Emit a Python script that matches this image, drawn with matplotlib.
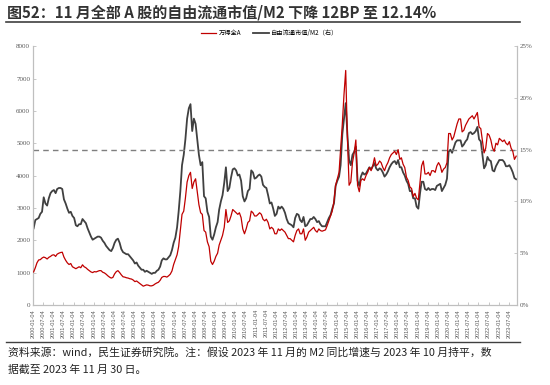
import numpy as np
import pandas as pd
import matplotlib
matplotlib.use("Agg")
from matplotlib import pyplot as plt
import matplotlib.dates as mdates
from matplotlib.ticker import FuncFormatter, MultipleLocator

plt.rcParams['font.family'] = ['Noto Sans CJK SC', 'DejaVu Sans']

# monthly values, 2000-01 .. 2023-11
wind_a = [
    1020, 1150, 1300, 1390, 1400, 1450, 1480, 1460, 1420, 1470, 1500, 1540,  # 2000
    1550, 1500, 1570, 1600, 1620, 1630, 1480, 1380, 1300, 1250, 1280, 1180,  # 2001
    1150, 1120, 1150, 1180, 1150, 1240, 1180, 1150, 1100, 1060, 1020, 1000,  # 2002
    1030, 1020, 1040, 1060, 1060, 1010, 990, 950, 900, 860, 830, 850,        # 2003
    960, 1030, 1060, 1000, 930, 870, 860, 840, 830, 810, 800, 770,           # 2004
    720, 740, 700, 660, 620, 580, 600, 620, 610, 590, 590, 610,              # 2005
    650, 680, 700, 760, 850, 880, 880, 860, 900, 950, 1050, 1250,            # 2006
    1400, 1550, 1800, 2300, 2800, 2900, 3300, 3800, 4000, 4100, 3600, 3800,  # 2007
    3900, 3500, 3100, 2850, 2800, 2300, 2250, 1950, 1800, 1350, 1250, 1350,  # 2008
    1500, 1600, 1850, 2000, 2150, 2400, 2950, 2550, 2600, 2750, 2950, 2900,  # 2009
    2850, 2800, 2850, 2700, 2350, 2200, 2350, 2550, 2600, 2900, 2850, 2750,  # 2010
    2750, 2800, 2850, 2800, 2650, 2600, 2650, 2550, 2350, 2400, 2350, 2200,  # 2011
    2200, 2350, 2300, 2350, 2300, 2250, 2150, 2050, 2050, 2000, 1950, 2150,  # 2012
    2300, 2350, 2200, 2200, 2350, 2000, 2100, 2250, 2300, 2350, 2400, 2300,  # 2013
    2250, 2350, 2300, 2280, 2300, 2320, 2450, 2600, 2750, 2900, 3200, 3700,  # 2014
    3900, 4100, 4800, 5600, 6500, 7250, 5200, 3700, 3800, 4400, 4700, 5100,  # 2015
    3700, 3500, 3850, 3900, 3850, 4000, 4100, 4250, 4150, 4300, 4550, 4300,  # 2016
    4350, 4450, 4400, 4250, 4150, 4300, 4400, 4550, 4650, 4700, 4750, 4650,  # 2017
    4800, 4500, 4550, 4350, 4250, 3950, 3850, 3650, 3600, 3350, 3450, 3300,  # 2018
    3250, 3800, 4300, 4450, 4050, 4050, 4100, 4000, 4150, 4150, 4100, 4300,  # 2019
    4400, 4300, 4100, 4200, 4250, 4400, 5300, 5300, 5100, 5200, 5400, 5600,  # 2020
    5750, 5750, 5350, 5400, 5550, 5650, 5750, 5800, 5850, 5750, 5850, 5950,  # 2021
    5500, 5450, 5100, 4700, 4850, 5300, 5250, 5100, 4850, 4750, 5000, 4950,  # 2022
    5150, 5100, 5050, 5100, 5000, 4950, 5050, 4850, 4750, 4500, 4600,        # 2023
]

mcap_m2 = [
    7.4, 8.2, 8.3, 8.4, 8.8, 9.0, 10.4, 9.8, 9.6, 10.3, 10.8, 11.0,
    11.1, 10.8, 11.2, 11.3, 11.3, 11.2, 10.2, 9.8, 9.3, 8.9, 9.0, 8.6,
    8.4, 7.7, 7.6, 7.8, 7.8, 8.3, 8.1, 7.9, 7.4, 7.0, 6.6, 6.3,
    6.4, 6.5, 6.6, 6.6, 6.5, 6.2, 6.0, 5.7, 5.5, 5.3, 5.2, 5.5,
    6.0, 6.3, 6.4, 6.0, 5.4, 5.1, 5.0, 4.9, 4.9, 4.7, 4.5, 4.3,
    4.0, 4.1, 3.8, 3.6, 3.4, 3.4, 3.2, 3.3, 3.2, 3.1, 3.0, 3.1,
    3.1, 3.3, 3.4, 3.7, 4.3, 4.5, 4.4, 4.4, 4.6, 4.8, 5.3, 6.0,
    6.5, 7.5, 9.0, 11.0, 13.5, 14.5, 16.0, 18.0, 19.0, 19.4, 16.8, 18.0,
    17.5, 16.0, 14.5, 13.5, 13.8, 10.5, 10.3, 9.0, 8.5, 6.6, 6.3, 6.8,
    7.5, 8.0, 9.2, 10.0, 10.6, 11.8, 13.3, 11.0, 11.3, 12.3, 13.1, 13.2,
    13.0, 12.5, 12.6, 12.0, 10.5, 10.0, 10.3, 11.0, 11.2, 13.0, 12.8, 12.2,
    12.3, 12.5, 12.6, 12.4, 11.6, 11.4, 11.3, 10.6, 9.8, 9.9, 9.3, 8.6,
    8.8, 9.5, 9.3, 9.5, 9.3, 8.9, 8.3, 7.9, 7.8, 7.7, 7.5, 8.4,
    8.8, 8.7, 8.2, 8.0, 8.5, 7.6, 7.7, 8.0, 8.3, 8.3, 8.5, 8.3,
    8.0, 8.1, 7.8, 7.6, 7.6, 7.6, 8.0, 8.4, 8.7, 9.3, 9.8, 11.5,
    12.0, 12.4, 13.5, 16.5, 18.0, 19.5, 16.5, 14.0, 13.5, 14.5, 14.8, 15.3,
    12.0, 11.5, 12.4, 12.8, 12.6, 12.7, 13.0, 13.3, 13.1, 13.4, 13.7, 13.2,
    13.0, 13.2, 13.1, 12.8, 12.4, 12.6, 12.9, 13.3, 13.6, 13.8, 13.9, 13.6,
    14.0, 13.3, 13.3, 12.8, 12.5, 12.0, 11.7, 11.0, 11.0, 10.3, 10.3, 9.5,
    9.3, 10.8, 11.9, 11.9, 11.2, 11.1, 11.3, 11.1, 11.2, 11.2, 11.1, 11.5,
    11.6, 11.7, 11.0, 11.3, 11.6, 12.2, 14.8, 15.0, 14.7, 15.2, 15.7, 15.9,
    15.9, 15.9, 15.3, 15.5, 15.8, 16.0, 16.6, 16.7, 16.5, 16.6, 16.8, 17.2,
    16.0, 15.8, 14.6, 13.2, 13.5, 14.3, 14.0, 13.9, 13.0, 12.9, 13.4, 13.7,
    14.0, 14.0, 14.0, 13.8, 13.4, 13.4, 13.5, 13.2, 12.8, 12.26, 12.14,
]

dates = pd.date_range('2000-01-01', periods=len(wind_a), freq='MS') + pd.Timedelta(days=14)
ref_level = 4800
tick_dates = [pd.Timestamp(f'{y}-{m:02d}-04') for y in range(2000, 2024) for m in (1, 7)]

title = '图52：11 月全部 A 股的自由流通市值/M2 下降 12BP 至 12.14%'
note = ('资料来源：wind，民生证券研究院。注：假设 2023 年 11 月的 M2 同比增速与 2023 年 10 月持平，数\n'
        '据截至 2023 年 11 月 30 日。')

fig = plt.figure(figsize=(5.5, 3.85), dpi=100)
ax1 = fig.add_axes([0.06, 0.208, 0.88, 0.672])
ax2 = ax1.twinx()

ax1.plot(dates, wind_a, color='#c00000', lw=0.9, label='万得全A', zorder=3)
ax2.plot(dates, mcap_m2, color='#404040', lw=1.3, label='自由流通市值/M2（右）', zorder=2)
ax1.axhline(ref_level, color='#7f7f7f', lw=1.0, ls=(0, (4, 3)), zorder=1)

ax1.set_zorder(ax2.get_zorder() + 1)
ax1.patch.set_visible(False)

ax1.set_ylim(0, 8000)
ax1.yaxis.set_major_locator(MultipleLocator(1000))
ax2.set_ylim(0, 25)
ax2.yaxis.set_major_locator(MultipleLocator(5))
ax2.yaxis.set_major_formatter(FuncFormatter(lambda v, p: f'{v:.0f}%'))

ax1.set_xlim(pd.Timestamp('2000-01-04'), pd.Timestamp('2023-11-30'))
ax1.set_xticks(tick_dates)
ax1.xaxis.set_major_formatter(mdates.DateFormatter('%Y-%m-%d'))

for ax in (ax1, ax2):
    ax.spines['top'].set_visible(False)
    for s in ('left', 'right', 'bottom'):
        ax.spines[s].set_color('#bfbfbf')
        ax.spines[s].set_linewidth(0.8)
    ax.tick_params(axis='y', direction='in', length=2, width=0.6, color='#bfbfbf',
                   labelsize=5, labelcolor='#595959', pad=2)
    for lab in ax.get_yticklabels():
        lab.set_family('Liberation Serif')

ax1.tick_params(axis='x', direction='in', length=2, width=0.6, color='#bfbfbf',
                labelsize=4, labelcolor='#595959', rotation=90, pad=3)
for lab in ax1.get_xticklabels():
    lab.set_family('Liberation Sans')

h1, l1 = ax1.get_legend_handles_labels()
h2, l2 = ax2.get_legend_handles_labels()
fig.legend(h1 + h2, l1 + l2, loc='center', bbox_to_anchor=(0.49, 0.914), ncol=2,
           frameon=False, fontsize=4.5, handlelength=2.5, columnspacing=2.0,
           handletextpad=0.3)

fig.text(0.012, 0.968, title, fontsize=10.8, fontweight='bold', color='#333333',
         va='center', ha='left')
fig.add_artist(plt.Line2D([0.01, 0.945], [0.943, 0.943], color='#404040', lw=1.2))
fig.add_artist(plt.Line2D([0.01, 0.945], [0.112, 0.112], color='#404040', lw=1.0))
fig.text(0.015, 0.098, note, fontsize=7.8, color='#222222', va='top', ha='left',
         linespacing=1.75)

fig.savefig('out.png', dpi=100)
